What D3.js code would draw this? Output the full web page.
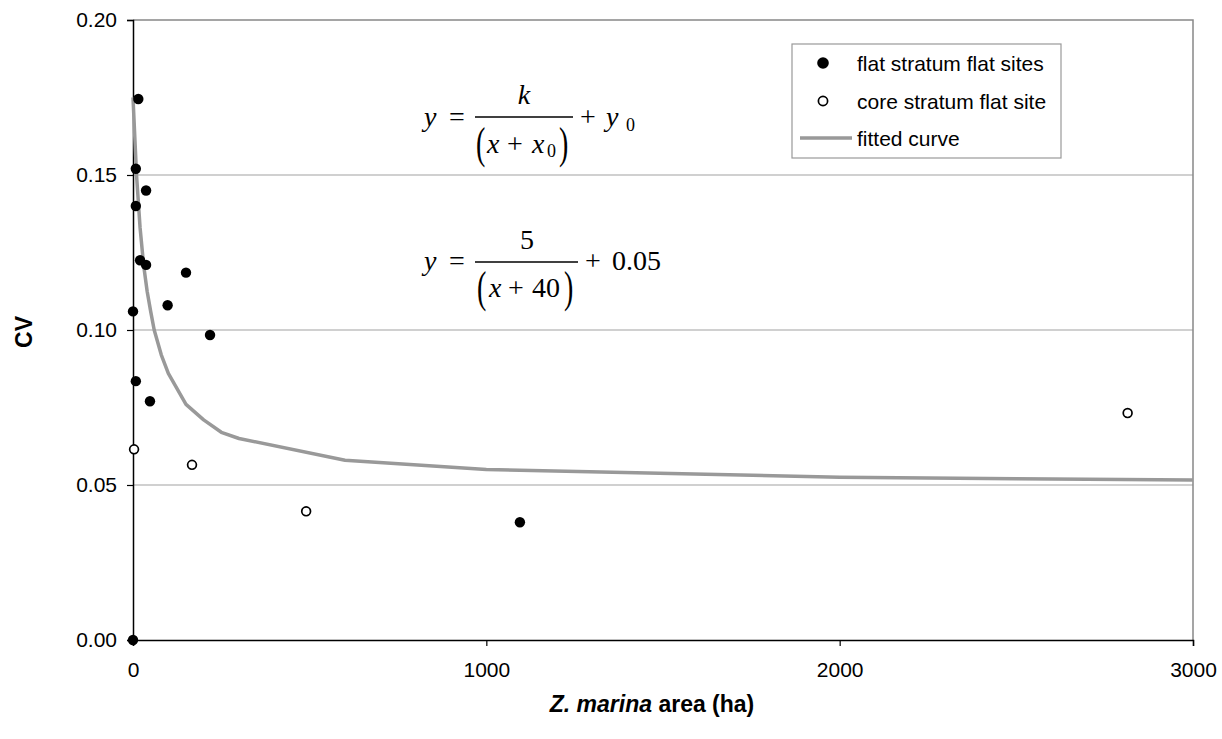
<!DOCTYPE html>
<html><head><meta charset="utf-8">
<script src="https://cdn.jsdelivr.net/npm/d3@7"></script>
<style>body{margin:0;background:#fff}svg{display:block}</style>
</head><body>
<svg id="c" width="1222" height="739"></svg>
<script>
const xTicks = [0, 1000, 2000, 3000];
const yTicks = [0, 0.05, 0.10, 0.15, 0.20];
const flatX = [0, 15, 8, 37, 8, 20, 37, 150, 0, 98, 218, 8, 48, 1095];
const flatY = [0, 0.1745, 0.152, 0.145, 0.140, 0.1225, 0.121, 0.1185, 0.106, 0.108, 0.0984, 0.0835, 0.077, 0.038];
const coreX = [3, 167, 490, 2815];
const coreY = [0.0615, 0.0565, 0.0415, 0.0732];
const fitX = [0, 10, 20, 30, 40, 50, 60, 80, 100, 150, 200, 250, 300, 600, 1000, 2000, 2500, 3000];
const fitY = [0.175, 0.150, 0.133, 0.121, 0.1125, 0.106, 0.100, 0.092, 0.086, 0.076, 0.071, 0.067, 0.065, 0.058, 0.055, 0.0525, 0.052, 0.0516];
const legendLabels = ["flat stratum flat sites", "core stratum flat site", "fitted curve"];

const svg = d3.select("#c");
const L = 133, R = 1193, T = 20, B = 640;
const x = d3.scaleLinear().domain([0, 3000]).range([L, R]);
const y = d3.scaleLinear().domain([0, 0.20]).range([B, T]);
const font = "Arial, 'Liberation Sans', sans-serif";

// gridlines
svg.append("g").selectAll("line").data(yTicks.filter(d => d > 0 && d < 0.2)).join("line")
  .attr("x1", L).attr("x2", R).attr("y1", d => y(d)).attr("y2", d => y(d))
  .attr("stroke", "#c0c0c0").attr("stroke-width", 1.5);
// top/right border
svg.append("path").attr("d", `M${L},${T}H${R}V${B}`).attr("fill", "none")
  .attr("stroke", "#888").attr("stroke-width", 1.5);

// axes
const yAxis = d3.axisLeft(y).tickValues(yTicks).tickFormat(d3.format(".2f")).tickSize(6).tickPadding(10);
const gy = svg.append("g").attr("transform", `translate(${L},0)`).call(yAxis);
const xAxis = d3.axisBottom(x).tickValues(xTicks).tickFormat(d3.format("d")).tickSize(6).tickPadding(16);
const gx = svg.append("g").attr("transform", `translate(0,${B})`).call(xAxis);
[gx, gy].forEach(g => {
  g.selectAll("path.domain").attr("stroke", "#000").attr("stroke-width", 1.5);
  g.selectAll(".tick line").attr("stroke", "#000").attr("stroke-width", 1.2);
  g.selectAll("text").attr("font-family", font).attr("font-size", 21).attr("fill", "#000");
});

// fitted curve
const line = d3.line().x((d, i) => x(fitX[i])).y((d, i) => y(fitY[i]));
svg.append("path").datum(fitX).attr("d", line).attr("fill", "none")
  .attr("stroke", "#999").attr("stroke-width", 3.5).attr("stroke-linejoin", "round");

// points
svg.append("g").selectAll("circle").data(flatX).join("circle")
  .attr("cx", (d) => x(d)).attr("cy", (d, i) => y(flatY[i])).attr("r", 5.2).attr("fill", "#000");
svg.append("g").selectAll("circle").data(coreX).join("circle")
  .attr("cx", (d) => x(d)).attr("cy", (d, i) => y(coreY[i])).attr("r", 4.4)
  .attr("fill", "#fff").attr("stroke", "#000").attr("stroke-width", 1.7);

// axis titles
svg.append("text").attr("transform", "translate(32,332) rotate(-90)").attr("text-anchor", "middle")
  .attr("font-family", font).attr("font-weight", "bold").attr("font-size", 23).text("CV");
const xt = svg.append("text").attr("x", 652).attr("y", 712).attr("text-anchor", "middle")
  .attr("font-family", font).attr("font-weight", "bold").attr("font-size", 23);
xt.append("tspan").attr("font-style", "italic").text("Z. marina");
xt.append("tspan").text(" area (ha)");

// legend
const lg = svg.append("g");
lg.append("rect").attr("x", 792).attr("y", 44).attr("width", 269).attr("height", 114)
  .attr("fill", "#fff").attr("stroke", "#999").attr("stroke-width", 1.2);
const ly = [63, 101, 138];
lg.append("circle").attr("cx", 823).attr("cy", ly[0]).attr("r", 5.8).attr("fill", "#000");
lg.append("circle").attr("cx", 823).attr("cy", ly[1]).attr("r", 4.6).attr("fill", "#fff").attr("stroke", "#000").attr("stroke-width", 1.7);
lg.append("line").attr("x1", 800).attr("x2", 852).attr("y1", ly[2]).attr("y2", ly[2]).attr("stroke", "#999").attr("stroke-width", 3.5);
lg.selectAll("text").data(legendLabels).join("text")
  .attr("x", 857).attr("y", (d, i) => ly[i] + 7.5).attr("font-family", font).attr("font-size", 21).text(d => d);

// equations
const serif = "'Liberation Serif', 'Times New Roman', serif";
function txt(xp, yp, s, opt = {}) {
  const t = svg.append("text").attr("x", xp).attr("y", yp).attr("font-family", serif)
    .attr("font-size", opt.size || 28).attr("font-style", opt.italic ? "italic" : "normal")
    .attr("text-anchor", opt.anchor || "start");
  if (opt.sy) t.attr("transform", `translate(0,${opt.cy}) scale(1,${opt.sy}) translate(0,${-opt.cy})`);
  t.text(s);
  return t;
}
// eq 1
txt(424, 126, "y", {italic: true});
txt(449, 126, "=");
svg.append("line").attr("x1", 475).attr("x2", 573).attr("y1", 117).attr("y2", 117).attr("stroke", "#000").attr("stroke-width", 1.3);
txt(524, 104, "k", {italic: true, anchor: "middle"});
txt(476, 153, "(", {sy: 1.6, cy: 144});
txt(487, 153, "x", {italic: true});
txt(507, 153, "+");
txt(532, 153, "x", {italic: true});
txt(547, 157, "0", {size: 18});
txt(559, 153, ")", {sy: 1.6, cy: 144});
txt(580, 126, "+");
txt(606, 126, "y", {italic: true});
txt(626, 131, "0", {size: 18});
// eq 2
txt(424, 270, "y", {italic: true});
txt(449, 270, "=");
svg.append("line").attr("x1", 475).attr("x2", 578).attr("y1", 262).attr("y2", 262).attr("stroke", "#000").attr("stroke-width", 1.3);
txt(527, 249, "5", {anchor: "middle"});
txt(477, 297, "(", {sy: 1.6, cy: 288});
txt(489, 297, "x", {italic: true});
txt(508, 297, "+");
txt(532, 297, "40");
txt(564, 297, ")", {sy: 1.6, cy: 288});
txt(585, 270, "+");
txt(612, 270, "0.05");
</script>
</body></html>
